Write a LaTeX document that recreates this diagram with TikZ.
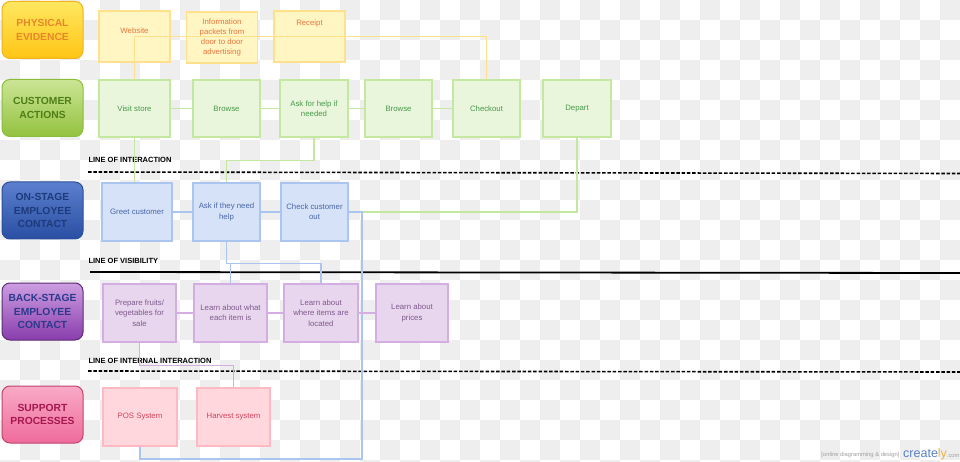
\documentclass[tikz,border=0pt]{standalone}
\usepackage{fontspec}
\setmainfont{Liberation Sans}
% row colours
\definecolor{peFill}{HTML}{FFF6C4}\definecolor{peLine}{HTML}{FFE08C}\definecolor{peText}{HTML}{E8763A}
\definecolor{caFill}{HTML}{EAF6DC}\definecolor{caLine}{HTML}{C4E8A0}\definecolor{caText}{HTML}{47994A}
\definecolor{onFill}{HTML}{D5E2F8}\definecolor{onLine}{HTML}{A9C5F0}\definecolor{onText}{HTML}{4A66A8}
\definecolor{bkFill}{HTML}{E8D6EE}\definecolor{bkLine}{HTML}{D4AEE3}\definecolor{bkText}{HTML}{7E5A8C}
\definecolor{spFill}{HTML}{FFD7DD}\definecolor{spLine}{HTML}{FFB9C3}\definecolor{spText}{HTML}{D2445E}
% lane colours: top, bottom, border, text
\definecolor{peTop}{HTML}{FFE760}\definecolor{peBot}{HTML}{FFC515}\definecolor{peRim}{HTML}{F2B21B}\definecolor{peInk}{HTML}{E8862A}
\definecolor{caTop}{HTML}{CCE596}\definecolor{caBot}{HTML}{93C23F}\definecolor{caRim}{HTML}{8ABD3A}\definecolor{caInk}{HTML}{4E7E18}
\definecolor{onTop}{HTML}{5C80CE}\definecolor{onBot}{HTML}{2A4EA2}\definecolor{onRim}{HTML}{2B4D9D}\definecolor{onInk}{HTML}{1D3A7C}
\definecolor{bkTop}{HTML}{CC9EE2}\definecolor{bkBot}{HTML}{8A3DAC}\definecolor{bkRim}{HTML}{5C2C74}\definecolor{bkInk}{HTML}{2B3A8A}
\definecolor{spTop}{HTML}{F8AAC6}\definecolor{spBot}{HTML}{EF6B9B}\definecolor{spRim}{HTML}{C4426C}\definecolor{spInk}{HTML}{A5174E}
\definecolor{checker}{HTML}{EEEEEE}
\definecolor{brandBlue}{HTML}{5A82C8}\definecolor{brandSun}{HTML}{F2B23A}
\begin{document}
\begin{tikzpicture}[x=1pt,y=-1pt,
    lane/.style={top color=#1Top,bottom color=#1Bot,draw=#1Rim,text=#1Ink,
       rounded corners=8pt,line width=1pt,minimum width=81pt,minimum height=57pt,
       align=center,font=\fontsize{10.3}{13.3}\selectfont\bfseries},
    box/.style={fill=#1Fill,draw=#1Line,text=#1Text,line width=1.2pt,inner sep=0pt,
       minimum height=58pt,align=center,font=\fontsize{7.8}{10.3}\selectfont},
    link/.style={draw=#1,line width=1.3pt},
    linelbl/.style={anchor=west,font=\fontsize{7.5}{9}\selectfont\bfseries}]
  \useasboundingbox (0,0) rectangle (960,462);
  \fill[white] (0,0) rectangle (960,462);
  \begin{scope}
    \clip (0,0) rectangle (960,462);
    \foreach \i in {0,...,47}{
      \foreach \j in {0,...,23}{
        \ifodd\numexpr\i+\j\relax \fill[checker] (20*\i,20*\j) rectangle ++(20,20); \fi
      }
    }
  \end{scope}
  % lanes on the left
  \node[lane=pe] (physical) at (42.5,30) {PHYSICAL\\EVIDENCE};
  \node[lane=ca] (customer) at (42.5,108) {CUSTOMER\\ACTIONS};
  \node[lane=on] (onstage) at (42.5,210.5) {ON-STAGE\\EMPLOYEE\\CONTACT};
  \node[lane=bk] (backstage) at (42.5,311.5) {BACK-STAGE\\EMPLOYEE\\CONTACT};
  \node[lane=sp] (support) at (42.5,414.5) {SUPPORT\\PROCESSES};
  % physical evidence
  \node[box=pe,minimum width=71pt,minimum height=51pt,text height=6pt,text depth=11.6pt] (website) at (134.5,36.5) {Website};
  \node[box=pe,minimum width=71pt,minimum height=51pt] (packets) at (222,37.5) {Information\\packets from\\door to door\\advertising};
  \node[box=pe,minimum width=71pt,minimum height=51pt,text height=6pt,text depth=27.6pt] (receipt) at (309.5,36.5) {Receipt};
  % customer actions
  \foreach \x/\w/\nm/\txt in {134.5/71/visit/{Visit store},226.5/67/browse/Browse,
      314/68/askhelp/{Ask for help if\\needed},398.5/67/browseagain/Browse,
      486.5/67/checkout/Checkout,577/68/depart/Depart}{
    \node[box=ca,minimum height=57pt,minimum width=\w pt] (\nm) at (\x,108.5) {\txt};
  }
  % on-stage
  \foreach \x/\w/\nm/\txt in {137/70/greet/{Greet customer},226.5/67/askneed/{Ask if they need\\help},
      314.5/67/checkcust/{Check customer\\out}}{
    \node[box=on,minimum width=\w pt] (\nm) at (\x,212) {\txt};
  }
  % back-stage
  \foreach \x/\w/\nm/\txt in {139.5/73/prepare/{Prepare fruits/\\vegetables for\\sale},
      230.5/73/learnitem/{Learn about what\\each item is},
      321/74/learnplace/{Learn about\\where items are\\located},412/72/learnprice/{Learn about\\prices}}{
    \node[box=bk,minimum width=\w pt] (\nm) at (\x,313) {\txt};
  }
  % support
  \node[box=sp,minimum width=74pt] (pos) at (140,417) {POS System};
  \node[box=sp,minimum width=73pt] (harvest) at (233.5,417) {Harvest system};
  % lines
  \node[linelbl] (interaction) at (85,160) {LINE OF INTERACTION};
  \node[linelbl] (visibility) at (85,261) {LINE OF VISIBILITY};
  \node[linelbl] (internal) at (85,361) {LINE OF INTERNAL INTERACTION};
  \draw[line width=1.6pt,dash pattern=on 3.5pt off 1.8pt] (88,172) -- (960,173.5);
  \draw[line width=1.8pt] (90,272) -- (960,273);
  \draw[line width=1.6pt,dash pattern=on 3.5pt off 1.8pt] (88,371) -- (960,372);
  % connectors
  \coordinate (outjoin) at (362,212);
  \coordinate (poscorner) at (362,459);
  \draw[link=peLine] (visit.north) -- ++(0,-43) -| (checkout.north);
  \foreach \a/\b in {visit/browse,browse/askhelp,askhelp/browseagain,browseagain/checkout}{
    \draw[link=caLine] (\a.east) -- (\b.west);
  }
  \draw[link=caLine] (visit.south) -- (visit.south |- greet.north);
  \draw[link=caLine] (askhelp.south) -- ++(0,23) -| (askneed.north);
  \draw[link=caLine] (depart.south) |- (outjoin);
  \foreach \a/\b in {greet/askneed,askneed/checkcust}{
    \draw[link=onLine] (\a.east) -- (\b.west);
  }
  \draw[link=onLine] (checkcust.east) -- (outjoin) -- (poscorner) -| (pos.south);
  \draw[link=onLine] (askneed.south) -- ++(0,22) coordinate (vis) -| (learnitem.north);
  \draw[link=onLine] (vis) -| (learnplace.north);
  \foreach \a/\b in {prepare/learnitem,learnitem/learnplace,learnplace/learnprice}{
    \draw[link=bkLine] (\a.east) -- (\b.west);
  }
  \draw[link=bkLine] (prepare.south) -- ++(0,23) -| (harvest.north);
  % watermark
  \node[anchor=east,text=gray!75,font=\fontsize{5.8}{7}\selectfont] (tagline) at (903,455) {[online diagramming \& design]};
  \node[anchor=west,inner sep=0pt,font=\fontsize{12.5}{13}\selectfont] (brand) at (903,454)
    {\textcolor{brandBlue}{create}\textcolor{brandSun}{ly}\textcolor{gray!75}{\fontsize{5.8}{7}\selectfont.com}};
\end{tikzpicture}
\end{document}
